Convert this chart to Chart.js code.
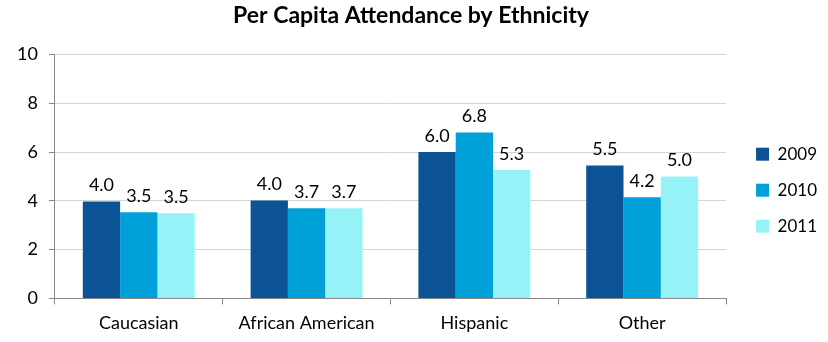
<!DOCTYPE html>
<html>
<head>
<meta charset="utf-8">
<script src="https://cdn.jsdelivr.net/npm/chart.js@4"></script>
<style>
body{margin:0;background:#fff;}
#wrap{width:828px;height:342px;}
</style>
</head>
<body>
<div id="wrap"><canvas id="myChart" width="828" height="342"></canvas></div>
<script>
const categories = ["Caucasian","African American","Hispanic","Other"];
const years = ["2009","2010","2011"];
const v2009 = [3.97, 4.02, 6.0, 5.45];
const v2010 = [3.53, 3.7, 6.8, 4.15];
const v2011 = [3.49, 3.7, 5.27, 5.0];
const colors = ["#0b5394","#00a0d8","#95f3f8"];

// labels over the bars
const barLabels = {
  id: "barLabels",
  afterDatasetsDraw(chart){
    const ctx = chart.ctx;
    ctx.save();
    ctx.font = "18px Lato";
    ctx.fillStyle = "#000";
    ctx.textAlign = "center";
    ctx.textBaseline = "bottom";
    chart.data.datasets.forEach((ds,i)=>{
      chart.getDatasetMeta(i).data.forEach((bar,j)=>{
        ctx.fillText(ds.data[j].toFixed(1), bar.x, bar.y - 7);
      });
    });
    ctx.restore();
  }
};

// push the legend a bit further from the plot
const legendShift = {
  id: "legendShift",
  afterLayout(chart){
    chart.legend.left += 11;
    chart.legend.right += 11;
  }
};

new Chart("myChart", {
  type: "bar",
  data: {
    labels: categories,
    datasets: [
      {label: years[0], data: v2009, backgroundColor: colors[0]},
      {label: years[1], data: v2010, backgroundColor: colors[1]},
      {label: years[2], data: v2011, backgroundColor: colors[2]}
    ]
  },
  options: {
    responsive: false,
    animation: false,
    layout: {padding: {left: 6, right: 12, top: 0, bottom: 0}},
    datasets: {bar: {categoryPercentage: 0.667, barPercentage: 1.0}},
    plugins: {
      title: {
        display: true,
        text: "Per Capita Attendance by Ethnicity",
        color: "#000",
        font: {family: "Lato", size: 23, weight: "bold"},
        padding: {top: 2, bottom: 25}
      },
      legend: {
        position: "right",
        title: {display: true, text: " ", padding: {top: 24, bottom: 0}},
        labels: {
          color: "#000",
          font: {family: "Lato", size: 17},
          boxWidth: 13,
          boxHeight: 13,
          padding: 19
        }
      },
      tooltip: {enabled: false}
    },
    scales: {
      x: {
        grid: {display: true, drawOnChartArea: false, color: "#888", tickLength: 6},
        border: {color: "#888"},
        ticks: {color: "#000", font: {family: "Lato", size: 18}, padding: 8}
      },
      y: {
        min: 0, max: 10,
        ticks: {stepSize: 2, color: "#000", font: {family: "Lato", size: 18}, padding: 11},
        grid: {color: "#d4d4d4", tickLength: 6, tickColor: "#888"},
        border: {color: "#888"}
      }
    }
  },
  plugins: [barLabels, legendShift]
});
</script>
</body>
</html>
